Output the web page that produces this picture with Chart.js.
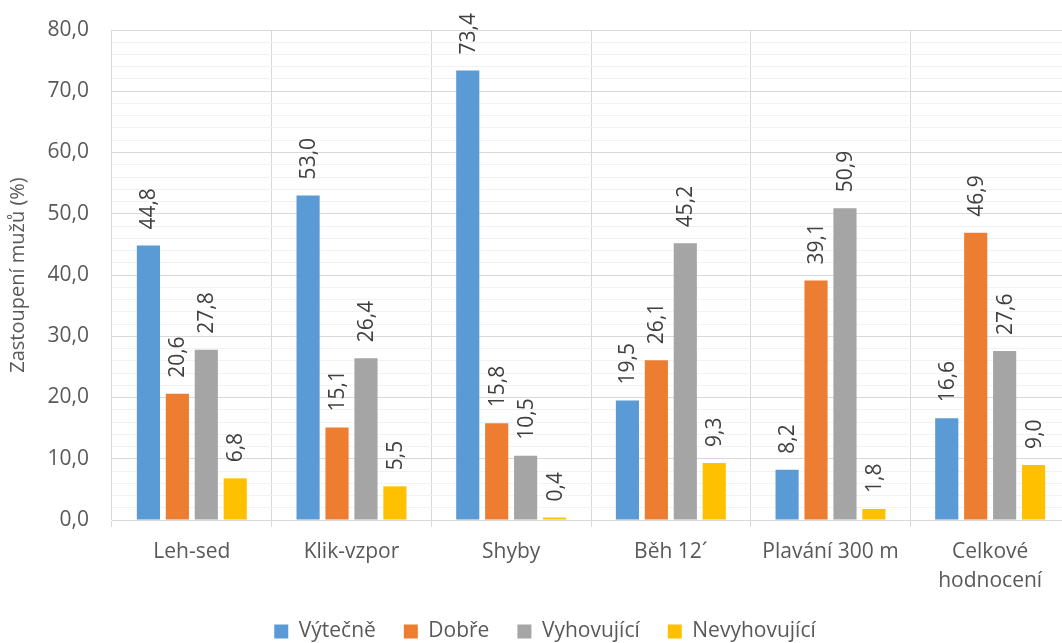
<!DOCTYPE html>
<html>
<head>
<meta charset="utf-8">
<script src="https://cdn.jsdelivr.net/npm/chart.js@4"></script>
<style>
html,body{margin:0;padding:0;overflow:hidden;background:#fff;}
#wrap{width:1090px;height:652px;}
</style>
</head>
<body>
<div id="wrap"><canvas id="c" width="1090" height="652"></canvas></div>
<script>
const categories = ['Leh-sed', 'Klik-vzpor', 'Shyby', 'Běh 12´', 'Plavání 300 m', ['Celkové', 'hodnocení']];
const seriesNames = ['Výtečně', 'Dobře', 'Vyhovující', 'Nevyhovující'];
const vytecne = [44.8, 53.0, 73.4, 19.5, 8.2, 16.6];
const dobre = [20.6, 15.1, 15.8, 26.1, 39.1, 46.9];
const vyhovujici = [27.8, 26.4, 10.5, 45.2, 50.9, 27.6];
const nevyhovujici = [6.8, 5.5, 0.4, 9.3, 1.8, 9.0];
const colors = ['#5B9BD5', '#ED7D31', '#A5A5A5', '#FFC000'];
const yAxisTitle = 'Zastoupení mužů (%)';

const FONT = "'Open Sans', sans-serif";
const fmt = v => v.toFixed(1).replace('.', ',');

const labelPlugin = {
  id: 'barLabels',
  afterLayout(chart) {
    if (chart.legend) { chart.legend.left += 10; chart.legend.right += 10; }
  },
  afterDatasetsDraw(chart) {
    const ctx = chart.ctx;
    ctx.save();
    ctx.font = '21px ' + FONT;
    ctx.fillStyle = '#404040';
    ctx.textAlign = 'left';
    ctx.textBaseline = 'middle';
    chart.data.datasets.forEach((ds, di) => {
      const meta = chart.getDatasetMeta(di);
      meta.data.forEach((bar, i) => {
        ctx.save();
        ctx.translate(bar.x, bar.y - 16);
        ctx.rotate(-Math.PI / 2);
        ctx.fillText(fmt(ds.data[i]), 0, 1);
        ctx.restore();
      });
    });
    ctx.restore();
  }
};

const seriesData = [vytecne, dobre, vyhovujici, nevyhovujici];

new Chart(document.getElementById('c'), {
  type: 'bar',
  data: {
    labels: categories,
    datasets: seriesNames.map((n, i) => ({
      label: n,
      data: seriesData[i],
      backgroundColor: colors[i],
      borderWidth: 0,
      categoryPercentage: 0.725,
      barPercentage: 0.8
    }))
  },
  options: {
    responsive: false,
    animation: false,
    layout: { padding: { top: 30, right: 20, left: 0, bottom: 0 } },
    plugins: {
      legend: {
        position: 'bottom',
        labels: {
          boxWidth: 14,
          boxHeight: 14,
          padding: 28,
          color: '#595959',
          font: { family: FONT, size: 21 }
        }
      },
      tooltip: { enabled: false }
    },
    scales: {
      x: {
        grid: { offset: true, color: '#d9d9d9', lineWidth: 1, tickLength: 7, drawTicks: true },
        border: { display: true, color: '#d9d9d9' },
        ticks: { color: '#595959', padding: 10, font: { family: FONT, size: 21, lineHeight: 1.4 }, maxRotation: 0, autoSkip: false },
        afterFit(s) { s.height = 73; }
      },
      y: {
        min: 0,
        max: 80,
        border: { display: false },
        grid: {
          drawTicks: false,
          color: c => (c.tick && Math.round(c.tick.value) % 10 === 0) ? '#d9d9d9' : '#f2f2f2',
          lineWidth: 1
        },
        ticks: {
          stepSize: 2,
          autoSkip: false,
          padding: 23,
          color: '#595959',
          font: { family: FONT, size: 21 },
          callback: v => (Math.round(v) % 10 === 0) ? fmt(v) : ''
        },
        title: {
          display: true,
          text: yAxisTitle,
          color: '#595959',
          padding: { top: 6, bottom: 0 },
          font: { family: FONT, size: 20 }
        },
        afterFit(s) { s.width = 112; s.paddingTop = 14; s.paddingBottom = 0; }
      }
    }
  },
  plugins: [labelPlugin]
});
</script>
</body>
</html>
